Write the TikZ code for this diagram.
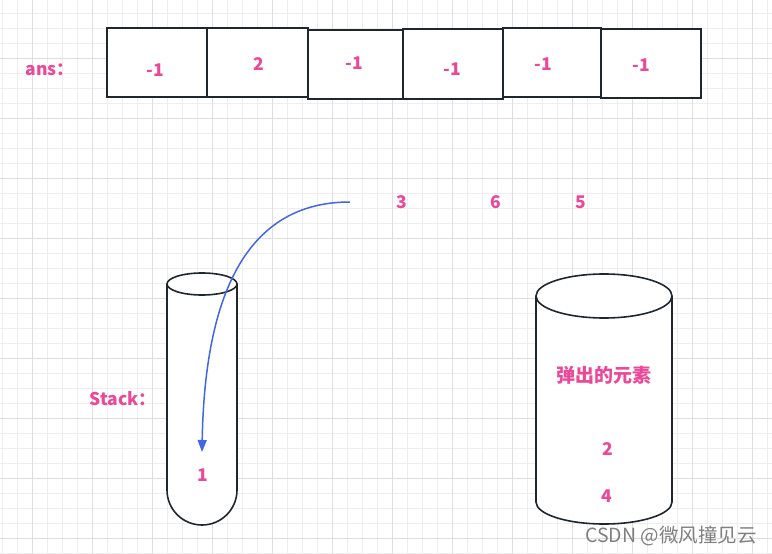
\documentclass[tikz,border=0pt]{standalone}
\usepackage{fontspec}
\setmainfont{Noto Sans CJK SC}
\usetikzlibrary{arrows.meta, positioning}
\definecolor{inkpink}{RGB}{236,72,153}
\definecolor{darkline}{RGB}{32,38,46}
\definecolor{arrowblue}{RGB}{66,103,230}
\definecolor{gridminor}{RGB}{238,238,238}
\definecolor{gridmajor}{RGB}{222,222,222}
\tikzset{
    cell/.style={
        rectangle,
        draw=darkline,
        line width=1.8pt,
        fill=white,
        minimum width=100pt,
        minimum height=69pt,
        inner sep=0pt
    },
    pinktext/.style={
        text=inkpink,
        inner sep=0pt,
        font=\fontsize{17.5}{20}\selectfont\bfseries
    },
    vessel/.style={
        draw=darkline,
        line width=1.6pt,
        fill=white
    },
    arrow/.style={
        line width=1.5pt,
        draw=arrowblue,
        -{Triangle[length=12pt,width=9pt]}
    }
}

\begin{document}
\begin{tikzpicture}[x=1pt, y=-1pt]
    \useasboundingbox (0,0) rectangle (772,554);
    \fill[white] (0,0) rectangle (772,554);
    % background grid
    \foreach \x in {2.3,17.3,...,772} \draw[gridminor, line width=0.9pt] (\x,0) -- (\x,554);
    \foreach \y in {13.3,28.3,...,554} \draw[gridminor, line width=0.9pt] (0,\y) -- (772,\y);
    \foreach \x in {32.3,92.3,...,772} \draw[gridmajor, line width=0.9pt] (\x,0) -- (\x,554);
    \foreach \y in {58.3,118.3,...,554} \draw[gridmajor, line width=0.9pt] (0,\y) -- (772,\y);

    % ans row
    \node[pinktext] (ans) at (50,70) {ans：};
    \node[cell] (c1) at (157,62.5) {};
    \node[cell, minimum width=101pt] (c2) at (257.5,62.5) {};
    \node[cell, minimum width=95pt] (c3) at (355.5,64.5) {};
    \node[cell, minimum height=70pt] (c4) at (453,64) {};
    \node[cell, minimum width=98pt] (c5) at (552,62.5) {};
    \node[cell] (c6) at (651,63.5) {};
    \node[pinktext] (v1) at (155,70) {-1};
    \node[pinktext] (v2) at (259,64) {2};
    \node[pinktext] (v3) at (354,63) {-1};
    \node[pinktext] (v4) at (452,69) {-1};
    \node[pinktext] (v5) at (543,64) {-1};
    \node[pinktext] (v6) at (641,65) {-1};

    % remaining input
    \node[pinktext] (n3) at (402,202) {3};
    \node[pinktext] (n6) at (496,202) {6};
    \node[pinktext] (n5) at (581,202) {5};

    % stack tube
    \node[pinktext] (stk) at (123,399) {Stack：};
    \draw[vessel] (167,284) -- (167,490) arc[start angle=180, end angle=360, radius=35pt] -- (237,284);
    \draw[vessel] (202,284) ellipse[x radius=35pt, y radius=11pt];
    \node[pinktext] (s1) at (203,475) {1};

    % popped elements
    \draw[vessel] (536,296) -- (536,502) arc[start angle=180, end angle=360, x radius=68pt, y radius=22pt] -- (672,296);
    \draw[vessel] (604,296) ellipse[x radius=68pt, y radius=22pt];
    \node[pinktext, font=\fontsize{19}{22}\selectfont\bfseries] (pop) at (604,375) {弹出的元素};
    \node[pinktext] (p2) at (608,449) {2};
    \node[pinktext] (p4) at (607,496) {4};

    % push arrow
    \coordinate (src) at (350,202);
    \coordinate (dst) at (202,452);
    \draw[arrow] (src) .. controls (255,202) and (205,280) .. (dst);

    \node[text=gray, font=\fontsize{19.5}{22}\selectfont] (mark) at (671,536) {CSDN @微风撞见云};
\end{tikzpicture}
\end{document}
